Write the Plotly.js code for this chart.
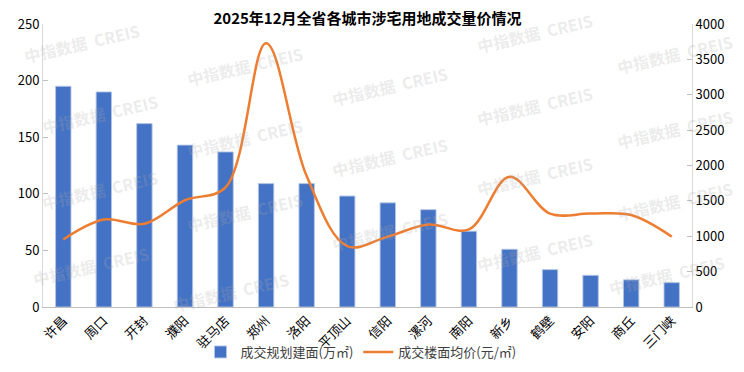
<!DOCTYPE html>
<html>
<head>
<meta charset="utf-8">
<script src="https://cdn.plot.ly/plotly-3.0.1.min.js"></script>
<style>html,body{margin:0;padding:0;background:#fff;}#chart{width:744px;height:372px;}</style>
</head>
<body>
<div id="chart"></div>
<script>
const cities = ["许昌","周口","开封","濮阳","驻马店","郑州","洛阳","平顶山","信阳","漯河","南阳","新乡","鹤壁","安阳","商丘","三门峡"];
const area = [195, 190, 162, 143, 137, 109, 109, 98, 92, 86, 67, 51, 33, 28, 24, 21.5];
const price = [955, 1237, 1176, 1509, 1690, 3729, 1850, 860, 995, 1166, 1096, 1842, 1320, 1320, 1300, 995];
const areaName = "成交规划建面(万㎡)";
const priceName = "成交楼面均价(元/㎡)";
const titleText = "2025年12月全省各城市涉宅用地成交量价情况";
const wmText = "中指数据  CREIS";
const wmPos = [[45,25],[65,118],[65,218],[55,318],[232,55],[232,150],[232,247],[215,352],[398,82],[398,175],[398,272],[564,12],[564,108],[564,200],[564,300],[725,40],[725,138],[725,233],[715,330]];

const font = "'Noto Sans CJK SC', 'Open Sans', sans-serif";

const traces = [
  {type:'bar', x: cities, y: area, name: areaName, yaxis:'y',
   marker:{color:'#4472C4', line:{color:'rgba(180,199,231,0.9)', width:1}}},
  {type:'scatter', mode:'lines', x: cities, y: price, name: priceName, yaxis:'y2',
   line:{color:'#ED7D31', width:2.5, shape:'spline', smoothing:1}}
];

const annotations = wmPos.map(p => ({
  text: wmText, x: p[0]/744, y: 1 - p[1]/372, xref:'paper', yref:'paper',
  xanchor:'center', yanchor:'middle', showarrow:false, textangle:-13,
  font:{family:font, size:16, color:'rgba(170,170,170,0.24)', weight:'bold'}
}));

const layout = {
  width:744, height:372,
  margin:{l:43, r:52, t:24, b:65, autoexpand:false},
  paper_bgcolor:'#fff', plot_bgcolor:'rgba(0,0,0,0)',
  font:{family:font, size:13, color:'#000'},
  title:{text:titleText, x:0.5, xref:'paper', xanchor:'center', y:1-19/372, yref:'container', yanchor:'middle',
         font:{family:font, size:15, color:'#000', weight:'bold'}},
  bargap:0.62,
  showlegend:true,
  legend:{orientation:'h', x:0.49, xanchor:'center', y:1-352/372, yanchor:'middle', yref:'container',
          bgcolor:'rgba(0,0,0,0)', font:{family:font, size:13, color:'#404040'}, itemwidth:20, tracegroupgap:0},
  xaxis:{type:'category', tickangle:-45, showline:true, linecolor:'#bfbfbf', linewidth:1,
         ticks:'', showgrid:false, tickfont:{family:font, size:13, color:'#000'}, automargin:false},
  yaxis:{range:[0,250], dtick:50, showgrid:false, zeroline:false, showline:true, linecolor:'#d9d9d9',
         ticks:'inside', ticklen:5, tickcolor:'#bfbfbf', tickfont:{family:font, size:13, color:'#000'}, automargin:false},
  yaxis2:{range:[0,4000], dtick:500, overlaying:'y', side:'right', showgrid:false, zeroline:false,
          showline:true, linecolor:'#d9d9d9', ticks:'inside', ticklen:5, tickcolor:'#bfbfbf',
          tickfont:{family:font, size:13, color:'#000'}, automargin:false},
  annotations: annotations
};

Plotly.newPlot('chart', traces, layout, {displayModeBar:false, staticPlot:true});
</script>
</body>
</html>
